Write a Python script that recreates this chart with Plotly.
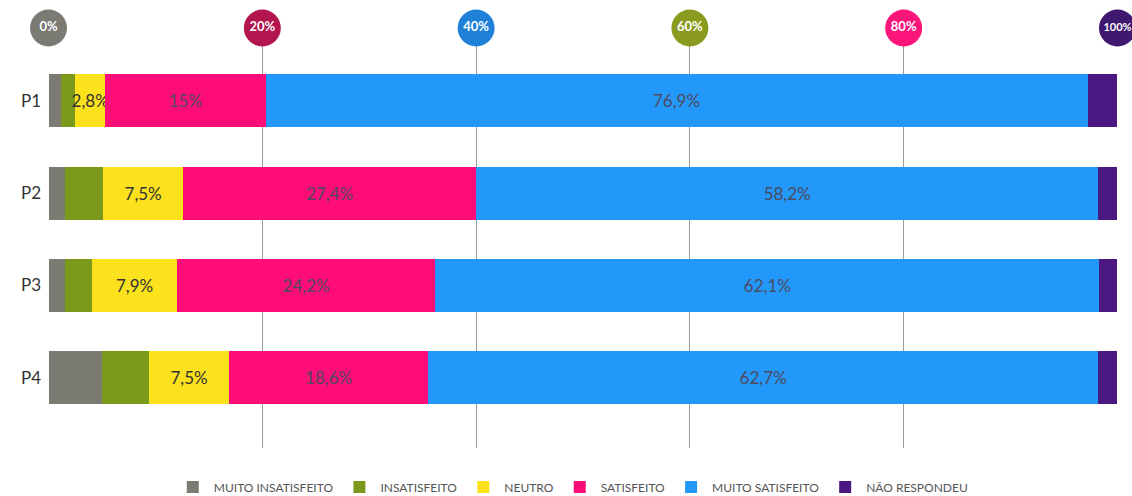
import plotly.graph_objects as go

questions = ["P1", "P2", "P3", "P4"]
series_names = ["MUITO INSATISFEITO", "INSATISFEITO", "NEUTRO", "SATISFEITO",
                "MUITO SATISFEITO", "NÃO RESPONDEU"]
muito_insatisfeito = [1.2, 1.5, 1.5, 5.0]
insatisfeito = [1.3, 3.6, 2.6, 4.4]
neutro = [2.8, 7.5, 7.9, 7.5]
satisfeito = [15.0, 27.4, 24.2, 18.6]
muito_satisfeito = [76.9, 58.2, 62.1, 62.7]
nao_respondeu = [2.8, 1.8, 1.7, 1.8]
labeled = [False, False, True, True, True, False]

tick_values = [0, 20, 40, 60, 80, 100]
tick_labels = ["0%", "20%", "40%", "60%", "80%", "100%"]

colors = ["#7b7b73", "#7b9a1c", "#fbe21c", "#fe0c78", "#2398fb", "#4b1882"]
label_colors = ["#333", "#333", "#333333", "#4d4a5c", "#4d4a5c", "#333"]
circle_colors = ["#7b7b73", "#b3154f", "#1f80d8", "#8a9b1f", "#fb1479", "#3f1870"]

all_series = [muito_insatisfeito, insatisfeito, neutro, satisfeito, muito_satisfeito, nao_respondeu]

def fmt(v):
    s = f"{v:.1f}".replace(".", ",")
    if s.endswith(",0"):
        s = s[:-2]
    return s + "%"

ypos = list(range(len(questions)))
fig = go.Figure()
for name, vals, col, lab, lcol in zip(series_names, all_series, colors, labeled, label_colors):
    fig.add_trace(go.Bar(
        y=ypos, x=vals, name=name, orientation="h", width=0.575,
        marker=dict(color=col, line=dict(width=0)),
        text=[fmt(v) for v in vals] if lab else None,
        textposition="inside", insidetextanchor="middle", constraintext="none",
        textangle=0,
        textfont=dict(family="Lato", size=17, color=lcol),
        hoverinfo="x+name",
    ))

fig.add_trace(go.Scatter(
    x=tick_values, y=[-0.79] * len(tick_values), mode="markers+text",
    marker=dict(size=37, color=circle_colors, line=dict(width=0)),
    text=["<b>" + t + "</b>" for t in tick_labels], textposition="middle center",
    textfont=dict(family="Lato", size=[13, 13, 13, 13, 13, 11], color="white"),
    cliponaxis=False, showlegend=False, hoverinfo="skip",
))

fig.update_layout(
    barmode="stack",
    width=1132, height=496,
    margin=dict(l=48, r=14, t=28, b=48, autoexpand=False),
    paper_bgcolor="white", plot_bgcolor="white",
    font=dict(family="Lato", color="#444"),
    xaxis=dict(range=[-0.05, 100.05], tickvals=tick_values, showticklabels=False,
               showgrid=True, gridcolor="#9a9a9a", gridwidth=1, zeroline=False,
               showline=False, fixedrange=True, automargin=False),
    yaxis=dict(range=[3.76, -0.79], tickvals=ypos, ticktext=questions,
               showgrid=False, zeroline=False, showline=False, automargin=False,
               tickfont=dict(family="Lato", size=17, color="#333"), ticklabelstandoff=6),
    legend=dict(orientation="h", x=0.49, xanchor="center", y=-0.093, yanchor="middle",
                font=dict(family="Lato", size=12, color="#555"), traceorder="normal",
                itemwidth=32, itemsizing="constant"),
    bargap=0.42,
)

fig.write_html("out.html", config={"displayModeBar": False},
               post_script="document.body.style.margin='0';")
